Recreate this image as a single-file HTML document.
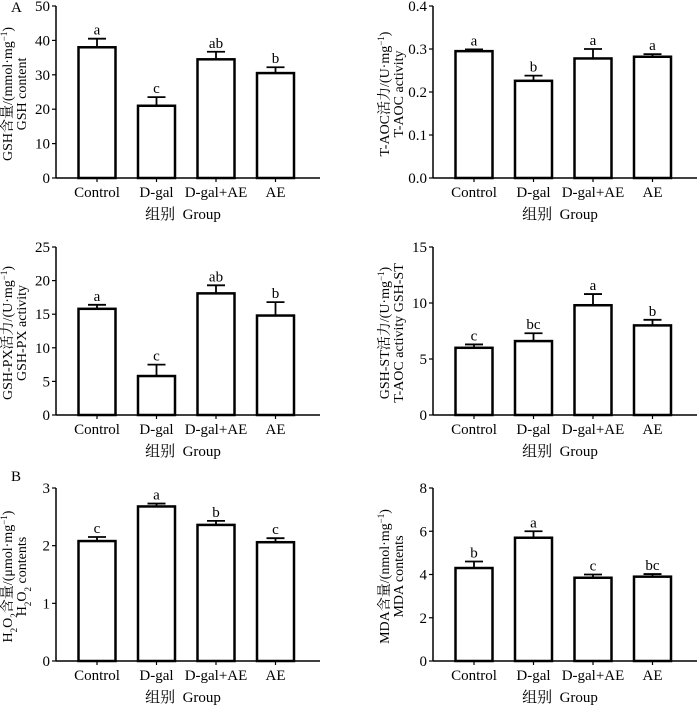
<!DOCTYPE html>
<html><head><meta charset="utf-8"><style>
body{margin:0;background:#fff}
svg{display:block;font-family:"Liberation Serif","Noto Serif CJK SC",serif}
</style></head><body>
<svg id="c" width="700" height="705" viewBox="0 0 700 705">
<text x="11" y="12" font-size="15">A</text>
<text x="11" y="481" font-size="15">B</text>
</svg>
<script>
const categories=["Control","D-gal","D-gal+AE","AE"];
const gshValues=[38,21,34.5,30.5];
const gshErr=[2.5,2.5,2.2,1.7];
const gshLetters=["a","c","ab","b"];
const taocValues=[0.295,0.226,0.278,0.282];
const taocErr=[0.004,0.012,0.022,0.006];
const taocLetters=["a","b","a","a"];
const gpxValues=[15.8,5.8,18.1,14.8];
const gpxErr=[0.6,1.7,1.2,2.0];
const gpxLetters=["a","c","ab","b"];
const gstValues=[6.0,6.6,9.8,8.0];
const gstErr=[0.3,0.7,1.0,0.5];
const gstLetters=["c","bc","a","b"];
const h2o2Values=[2.08,2.68,2.36,2.06];
const h2o2Err=[0.07,0.05,0.07,0.07];
const h2o2Letters=["c","a","b","c"];
const mdaValues=[4.3,5.7,3.85,3.9];
const mdaErr=[0.3,0.3,0.15,0.12];
const mdaLetters=["b","a","c","bc"];
const gshTicks=["0","10","20","30","40","50"];
const taocTicks=["0.0","0.1","0.2","0.3","0.4"];
const gpxTicks=["0","5","10","15","20","25"];
const gstTicks=["0","5","10","15"];
const h2o2Ticks=["0","1","2","3"];
const mdaTicks=["0","2","4","6","8"];

const svg=document.getElementById('c');
const NS="http://www.w3.org/2000/svg";
function mk(tag,attrs,parent){const e=document.createElementNS(NS,tag);for(const k in attrs)e.setAttribute(k,attrs[k]);(parent||svg).appendChild(e);return e;}

function panel(id,ax,top,bot,ticks,vals,errs,letters,t1,t2){
  const g=mk('g',{});
  
  
  const max=parseFloat(ticks[ticks.length-1]);
  const y=v=>bot-(v/max)*(bot-top);
  const xEnd=ax+264;
  const xc=i=>ax+41+i*59.5;
  const ya=mk('line',{x1:ax,y1:top,x2:ax,y2:bot,stroke:'#000','stroke-width':1.5},g);
  
  
  const xa=mk('line',{x1:ax,y1:bot,x2:xEnd,y2:bot,stroke:'#000','stroke-width':1.5},g);
  
  
  ticks.forEach(t=>{
    const v=parseFloat(t),yy=y(v);
    mk('line',{x1:ax-4,y1:yy,x2:ax,y2:yy,stroke:'#000','stroke-width':1.2},g);
    const tl=mk('text',{x:ax-6,y:yy+5,'font-size':15,'text-anchor':'end'},g);
    tl.textContent=t;
    
    
  });
  categories.forEach((c,i)=>{
    const cx=xc(i);
    mk('line',{x1:cx,y1:bot,x2:cx,y2:bot+4,stroke:'#000','stroke-width':1.2},g);
    const xl=mk('text',{x:cx,y:bot+19,'font-size':15,'text-anchor':'middle'},g);
    xl.textContent=c;
    
    
    const top1=y(vals[i]+errs[i]);
    const el=mk('line',{x1:cx,y1:y(vals[i]),x2:cx,y2:top1,stroke:'#000','stroke-width':1.8},g);
    
    
    mk('line',{x1:cx-9,y1:top1,x2:cx+9,y2:top1,stroke:'#000','stroke-width':1.8},g);
    const b=mk('rect',{x:cx-18.5,y:y(vals[i]),width:37,height:bot-y(vals[i]),fill:'#fff',stroke:'#000','stroke-width':2.5},g);
    
    
    const lt=mk('text',{x:cx,y:top1-4,'font-size':15,'text-anchor':'middle'},g);
    lt.textContent=letters[i];
    
    
  });
  const gl=mk('text',{x:ax+127,y:bot+41,'font-size':15,'text-anchor':'middle',style:'white-space:pre'},g);
  gl.textContent='组别  Group';
  
  
  const my=(top+bot)/2+2;
  const yt=mk('text',{transform:`translate(${ax-44},${my}) rotate(-90)`,'font-size':14,'text-anchor':'middle'},g);
  yt.innerHTML=t1;
  
  
  const yt2=mk('text',{transform:`translate(${ax-30},${my}) rotate(-90)`,'font-size':14,'text-anchor':'middle'},g);
  yt2.innerHTML=t2;
  
  
}
const sup='<tspan baseline-shift="super" font-size="9">−1</tspan>';
const sub2='<tspan baseline-shift="sub" font-size="9">2</tspan>';
panel('gsh',56,6,178,gshTicks,gshValues,gshErr,gshLetters,'GSH含量/(mmol·mg'+sup+')','GSH content');
panel('taoc',433,6,178,taocTicks,taocValues,taocErr,taocLetters,'T-AOC活力/(U·mg'+sup+')','T-AOC activity');
panel('gshpx',56,247,415,gpxTicks,gpxValues,gpxErr,gpxLetters,'GSH-PX活力/(U·mg'+sup+')','GSH-PX activity');
panel('gshst',433,247,415,gstTicks,gstValues,gstErr,gstLetters,'GSH-ST活力/(U·mg'+sup+')','T-AOC activity GSH-ST');
panel('h2o2',56,488,661,h2o2Ticks,h2o2Values,h2o2Err,h2o2Letters,'H'+sub2+'O'+sub2+'含量/(μmol·mg'+sup+')','H'+sub2+'O'+sub2+' contents');
panel('mda',433,488,661,mdaTicks,mdaValues,mdaErr,mdaLetters,'MDA含量/(nmol·mg'+sup+')','MDA contents');
</script>
</body></html>
